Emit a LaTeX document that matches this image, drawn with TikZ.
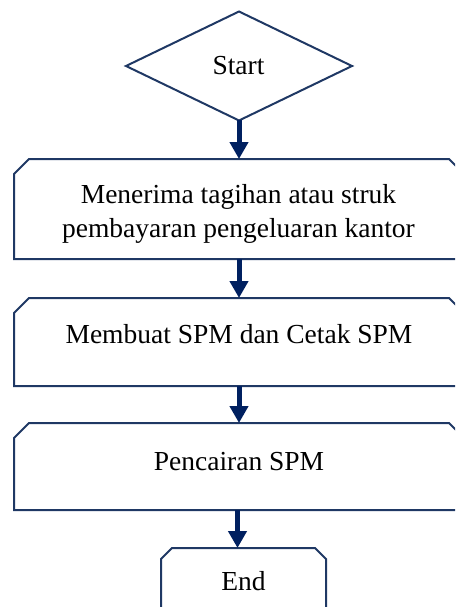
\documentclass[tikz,border=0pt]{standalone}
\usepackage{fontspec}
\setmainfont{Liberation Serif}
\usetikzlibrary{arrows.meta}
\definecolor{navyline}{RGB}{31,56,100}
\definecolor{navyarrow}{RGB}{0,32,96}
\newcommand\chbox[2]{%
  \draw[outline] (#1.south west) -- ([yshift=-#2pt]#1.north west)
    -- ([xshift=#2pt]#1.north west) -- ([xshift=-#2pt]#1.north east)
    -- ([yshift=-#2pt]#1.north east) -- (#1.south east) -- cycle;}
\begin{document}
\begin{tikzpicture}[x=1pt,y=-1pt,
  shapebox/.style={inner sep=0pt, outer sep=0pt, minimum width=450pt},
  txt/.style={inner sep=0pt, outer sep=0pt, font=\fontsize{27.5}{34}\selectfont, align=center, text=black},
  outline/.style={draw=navyline, line width=2pt, line join=miter},
  flow/.style={draw=navyarrow, line width=5pt, -{Triangle[width=18pt,length=17pt]}}]
\useasboundingbox (0,0) rectangle (455,607);
\begin{scope}
\clip (0,0) rectangle (455,607);
% shapes
\node[inner sep=0pt, outer sep=0pt, minimum width=226pt, minimum height=109pt] (start) at (239,66) {};
\draw[outline] (start.north) -- (start.east) -- (start.south) -- (start.west) -- cycle;
\node[shapebox, minimum height=100pt] (b1) at (239,209) {};
\chbox{b1}{15}
\node[shapebox, minimum height=88pt] (b2) at (239,342) {};
\chbox{b2}{15}
\node[shapebox, minimum height=87pt] (b3) at (239,466.5) {};
\chbox{b3}{15}
\node[inner sep=0pt, outer sep=0pt, minimum width=165pt, minimum height=72pt] (end) at (243.5,584) {};
\chbox{end}{11}
% texts
\node[txt, anchor=base] (tstart) at (238.5,75) {Start};
\node[txt] (t1) at (238.5,214) {Menerima tagihan atau struk\\pembayaran pengeluaran kantor};
\node[txt, anchor=base] (t2) at (239,343) {Membuat SPM dan Cetak SPM};
\node[txt, anchor=base] (t3) at (239,470) {Pencairan SPM};
\node[txt, anchor=base] (tend) at (243.5,590) {End};
% connectors
\draw[flow] (start.south) -- (b1.north);
\draw[flow] (b1.south) -- (b2.north);
\draw[flow] (b2.south) -- (b3.north);
\draw[flow] ([xshift=-1.5pt]b3.south) -- ([xshift=-1.5pt]b3.south |- end.north);
\end{scope}
\end{tikzpicture}
\end{document}
